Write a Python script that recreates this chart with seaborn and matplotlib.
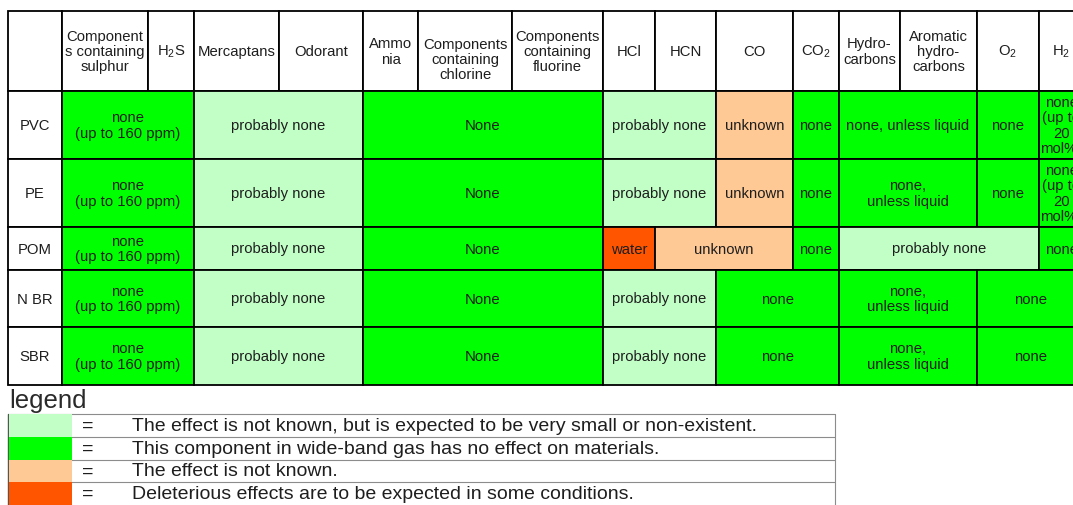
"""
Material compatibility table: effect of wide-band gas components on
plastics / elastomers, recreated with matplotlib + seaborn.
"""
import numpy as np
import matplotlib.pyplot as plt
import seaborn as sns
from matplotlib.patches import Rectangle
from matplotlib.colors import ListedColormap

sns.set_theme(style="white")
plt.rcParams["font.family"] = ["Liberation Sans", "DejaVu Sans"]
plt.rcParams["mathtext.default"] = "regular"

# ---- table content ----
materials = ["PVC", "PE", "POM", "N BR", "SBR"]
components = ["Component\ns containing\nsulphur", "H$_2$S", "Mercaptans", "Odorant",
              "Ammo\nnia", "Components\ncontaining\nchlorine", "Components\ncontaining\nfluorine",
              "HCl", "HCN", "CO", "CO$_2$", "Hydro-\ncarbons", "Aromatic\nhydro-\ncarbons",
              "O$_2$", "H$_2$"]

# effect levels (index used in the cell lists below)
levels = ["probably none", "none", "unknown", "deleterious"]
level_colors = ["#c2ffc6", "#00ff00", "#ffc995", "#ff5500"]
legend_text = [
    "The effect is not known, but is expected to be very small or non-existent.",
    "This component in wide-band gas has no effect on materials.",
    "The effect is not known.",
    "Deleterious effects are to be expected in some conditions.",
]

# merged cells per material: (first component, last component, level, text)
pvc_cells = [(0, 1, 1, "none\n(up to 160 ppm)"), (2, 3, 0, "probably none"), (4, 6, 1, "None"),
             (7, 8, 0, "probably none"), (9, 9, 2, "unknown"), (10, 10, 1, "none"),
             (11, 12, 1, "none, unless liquid"), (13, 13, 1, "none"),
             (14, 14, 1, "none\n(up to\n20\nmol%)")]
pe_cells = [(0, 1, 1, "none\n(up to 160 ppm)"), (2, 3, 0, "probably none"), (4, 6, 1, "None"),
            (7, 8, 0, "probably none"), (9, 9, 2, "unknown"), (10, 10, 1, "none"),
            (11, 12, 1, "none,\nunless liquid"), (13, 13, 1, "none"),
            (14, 14, 1, "none\n(up to\n20\nmol%)")]
pom_cells = [(0, 1, 1, "none\n(up to 160 ppm)"), (2, 3, 0, "probably none"), (4, 6, 1, "None"),
             (7, 7, 3, "water"), (8, 9, 2, "unknown"), (10, 10, 1, "none"),
             (11, 13, 0, "probably none"), (14, 14, 1, "none")]
nbr_cells = [(0, 1, 1, "none\n(up to 160 ppm)"), (2, 3, 0, "probably none"), (4, 6, 1, "None"),
             (7, 8, 0, "probably none"), (9, 10, 1, "none"),
             (11, 12, 1, "none,\nunless liquid"), (13, 14, 1, "none")]
sbr_cells = [(0, 1, 1, "none\n(up to 160 ppm)"), (2, 3, 0, "probably none"), (4, 6, 1, "None"),
             (7, 8, 0, "probably none"), (9, 10, 1, "none"),
             (11, 12, 1, "none,\nunless liquid"), (13, 14, 1, "none")]
table_rows = [pvc_cells, pe_cells, pom_cells, nbr_cells, sbr_cells]

# ---- layout (pixel grid of the page) ----
W, H = 1073, 506
col_edges = np.array([8, 62, 148, 194, 279, 363, 418, 512, 603, 655, 716, 793, 839,
                      900, 977, 1039, 1084])
row_edges = np.array([12, 92, 160, 228, 271, 328, 386])
header_shift = {5: 8}
lw = 1.3
txt = "#1e1e1e"

fig = plt.figure(figsize=(W / 100, H / 100), dpi=100)
ax = fig.add_axes([0, 0, 1, 1])
ax.set_xlim(0, W)
ax.set_ylim(H, 0)
ax.set_axis_off()


def cell(x0, x1, y0, y1, color, text, size=10.7, dy=0.0):
    ax.add_patch(Rectangle((x0, y0), x1 - x0, y1 - y0, facecolor=color,
                           edgecolor="black", lw=lw, zorder=1))
    ax.text((x0 + x1) / 2, (y0 + y1) / 2 + dy, text, ha="center", va="center",
            fontsize=size, color=txt, linespacing=1.1, zorder=3)


# header row
cell(col_edges[0], col_edges[1], row_edges[0], row_edges[1], "white", "")
for j, name in enumerate(components):
    cell(col_edges[j + 1], col_edges[j + 2], row_edges[0], row_edges[1], "white", name,
         dy=header_shift.get(j, 0))

# body rows
for i, (mat, cells) in enumerate(zip(materials, table_rows)):
    y0, y1 = row_edges[i + 1], row_edges[i + 2]
    cell(col_edges[0], col_edges[1], y0, y1, "white", mat)
    for first, last, lev, text in cells:
        cell(col_edges[first + 1], col_edges[last + 2], y0, y1, level_colors[lev], text)

# ---- legend ----
ax.text(9, 401, "legend", fontsize=18.5, color="#2a2a2a", va="center", ha="left")
leg_top, leg_right = 415, 835
leg_h = (H - leg_top) / len(levels)

# colour swatches drawn as a one-column seaborn heatmap
ax_sw = fig.add_axes([9 / W, 0, (72 - 9) / W, (H - leg_top) / H])
sns.heatmap(np.arange(len(levels)).reshape(-1, 1), cmap=ListedColormap(level_colors),
            cbar=False, xticklabels=False, yticklabels=False, ax=ax_sw)

for k, label in enumerate(legend_text):
    yt = leg_top + k * leg_h
    ax.plot([8, leg_right], [yt, yt], color="#8c8c8c", lw=0.8)
    ax.text(88, yt + leg_h / 2, "=", fontsize=14, color=txt, va="center", ha="center")
    ax.text(132, yt + leg_h / 2, label, fontsize=14, color=txt, va="center", ha="left")
ax.plot([8, 8], [leg_top, H], color="#555555", lw=1.0)
ax.plot([leg_right, leg_right], [leg_top, H], color="#8c8c8c", lw=0.8)

fig.savefig("out.png", dpi=100)
